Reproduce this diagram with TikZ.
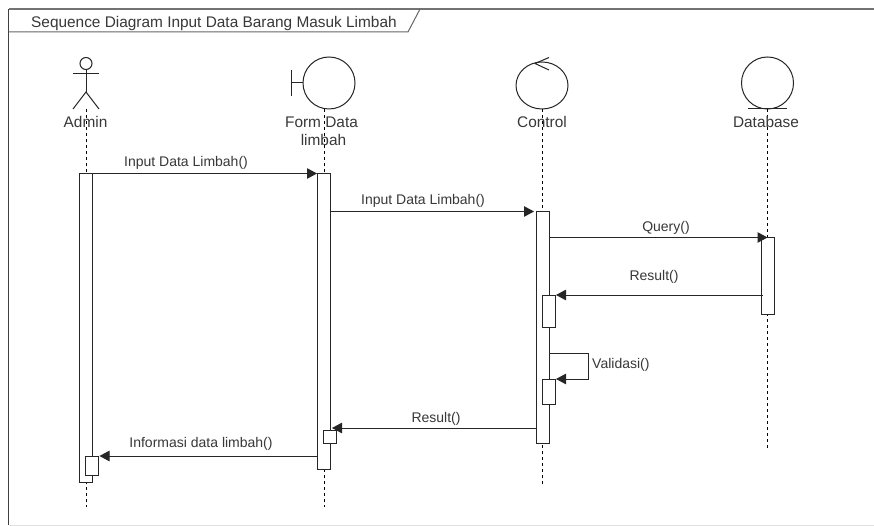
\documentclass[tikz,border=0pt]{standalone}
\usepackage{fontspec}
\setmainfont{Liberation Sans}
\usetikzlibrary{arrows.meta,positioning,shapes.geometric}
\definecolor{txt}{HTML}{383838}
\tikzset{
  x=1pt,y=-1pt,
  ln/.style={line width=1pt,draw=black!85},
  life/.style={line width=0.9pt,draw=black,dash pattern=on 3pt off 3pt},
  activ/.style={draw=black!85,fill=white,line width=1pt,minimum width=13pt,inner sep=0pt,outer sep=0pt},
  msg/.style={ln,-{Triangle[length=10pt,width=10.5pt]}},
  lbl/.style={font=\fontsize{15.4}{17}\selectfont,text=txt,inner sep=0pt},
  small/.style={font=\fontsize{14}{16}\selectfont,text=txt,inner sep=0pt},
  round1/.style={draw=black!85,line width=1pt,circle,minimum size=52pt,inner sep=0pt,outer sep=0pt},
}
\begin{document}
\begin{tikzpicture}
\useasboundingbox (0,0) rectangle (874,526);
\fill[white] (0,0) rectangle (874,526);
% frame
\draw[line width=1.4pt,draw=black!55] (874,9) -- (8.5,9);
\draw[line width=1pt,draw=black!75] (8.5,9) -- (8.5,525);
\draw[line width=0.6pt,draw=black!12] (8.5,525) -- (874,525);
\draw[line width=1pt,draw=black!60] (8.5,32) -- (408,32) -- (420,9);
\node[lbl,anchor=west] (title) at (31,23.5) {Sequence Diagram Input Data Barang Masuk Limbah};
% lifeline heads
\node[draw=black!85,line width=1pt,circle,minimum size=12pt,inner sep=0pt,outer sep=0pt] (ahead) at (86,63.5) {};
\coordinate (ahip) at (86,92);
\coordinate (aarmL) at (73,74);
\coordinate (aarmR) at (99,74);
\coordinate (alegL) at (73,109);
\coordinate (alegR) at (99,109);
\draw[ln] (ahead.south) -- (ahip);
\draw[ln] (aarmL) -- (aarmR);
\draw[ln] (alegL) -- (ahip) -- (alegR);
\node[round1] (form) at (329,83) {};
\coordinate (fbarT) at (291,70.5);
\coordinate (fbarB) at (291,96);
\coordinate (fbarM) at (291,83);
\draw[ln] (fbarT) -- (fbarB);
\draw[ln] (fbarM) -- (form.west);
\node[draw=black!85,line width=1pt,ellipse,minimum width=52pt,minimum height=47pt,inner sep=0pt,outer sep=0pt] (ctrl) at (542,85.5) {};
\coordinate (cT) at (549,57.5);
\coordinate (cM) at (535,63.5);
\coordinate (cB) at (549,70);
\draw[ln,line join=round] (cT) -- (cM) -- (cB);
\node[round1] (db) at (767.5,83) {};
\coordinate (dbL) at (748,108.5);
\coordinate (dbR) at (787,108.5);
\draw[ln] (dbL) -- (dbR);
% lifelines
\coordinate (aend) at (86,507);
\coordinate (fend) at (324,507);
\coordinate (cend) at (542,485);
\coordinate (dend) at (767.5,450);
\coordinate (astart) at (86,109);
\coordinate (fstart) at (324,109);
\draw[life] (astart) -- (aend);
\draw[life] (fstart) -- (fend);
\draw[life] (ctrl.south) -- (cend);
\draw[life] (db.south) -- (dend);
% lifeline labels
\node[lbl] (adminl) at (85.5,122) {Admin};
\node[lbl] (forml1) at (321.5,122) {Form Data};
\node[lbl] (forml2) at (323.5,140) {limbah};
\node[lbl] (ctrll) at (542,122) {Control};
\node[lbl] (dbl) at (766,122) {Database};
% activations
\node[activ,minimum height=309pt] (A) at (85.5,328) {};
\node[activ,minimum height=296pt] (F) at (323.5,321.5) {};
\node[activ,minimum height=232pt] (C) at (542.5,327.5) {};
\node[activ,minimum height=77pt] (D) at (767.5,276) {};
\node[activ,minimum height=32pt] (C1) at (548.5,311) {};
\node[activ,minimum height=25pt] (C2) at (548.5,391.5) {};
\node[activ,minimum height=19pt] (A1) at (92,465.5) {};
% messages
\coordinate (m4a) at (763,295);
\coordinate (s1) at (549,353);
\coordinate (s2) at (588,353);
\coordinate (s3) at (588,379);
\coordinate (m5a) at (536,428);
\coordinate (m5b) at (332,428);
\coordinate (m6a) at (317,456);
\draw[msg] (A.north east) -- (F.north west);
\draw[msg] (F.east |- C.north) -- ([xshift=-2pt]C.north west);
\draw[msg] (C.east |- D.north) -- (D.north);
\draw[msg] (m4a) -- ([xshift=1pt]C1.north east);
\draw[msg] (s1) -- (s2) -- (s3) -- ([xshift=1pt]C2.north east);
\draw[msg] (m5a) -- (m5b);
\draw[msg] (m6a) -- ([xshift=1pt]A1.north east);
\node[activ,minimum height=13pt] (F1) at (330,436.5) {};
% message labels
\node[small] (l1) at (186,162.5) {Input Data Limbah()};
\node[small] (l2) at (423,200.5) {Input Data Limbah()};
\node[small] (l3) at (666,227.5) {Query()};
\node[small] (l4) at (654,276.5) {Result()};
\node[small,anchor=west] (l5) at (592,364.5) {Validasi()};
\node[small] (l6) at (436,418.5) {Result()};
\node[small] (l7) at (201,443.5) {Informasi data limbah()};
\end{tikzpicture}
\end{document}
